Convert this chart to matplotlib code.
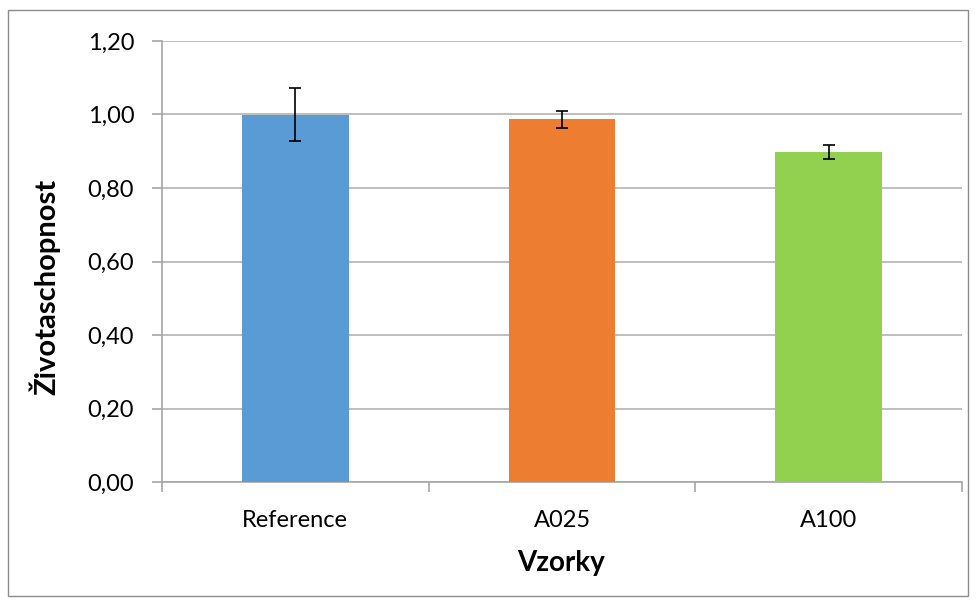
import matplotlib
matplotlib.use("Agg")
import matplotlib.pyplot as plt
from matplotlib.patches import Rectangle
from matplotlib.ticker import FuncFormatter, MultipleLocator

categories = ["Reference", "A025", "A100"]
values = [1.00, 0.987, 0.898]
errors = [0.073, 0.023, 0.018]
colors = ["#5B9BD5", "#ED7D31", "#92D050"]

plt.rcParams['font.family'] = ['Lato', 'DejaVu Sans']

W, H = 976, 606
fig = plt.figure(figsize=(W/100, H/100), dpi=100)
ax = fig.add_axes([162/W, (H-482)/H, (962-162)/W, (482-41)/H])

x = list(range(len(categories)))
ax.bar(x, values, width=0.4, color=colors, zorder=3)
ax.errorbar(x, values, yerr=errors, fmt='none', ecolor='black', elinewidth=1.2,
            capsize=4.5, capthick=1.2, zorder=4)

ax.set_xlim(-0.5, len(categories) - 0.5)
ax.set_ylim(0, 1.2)
ax.yaxis.set_major_locator(MultipleLocator(0.2))
ax.yaxis.set_major_formatter(FuncFormatter(lambda v, p: f"{v:.2f}".replace(".", ",")))
ax.grid(axis='y', color='#B3B3B3', linewidth=1.2, zorder=0)

ax.set_xticks([i - 0.5 for i in range(len(categories) + 1)])
ax.set_xticklabels([])
ax.set_xticks(x, minor=True)
ax.set_xticklabels(categories, minor=True)
ax.tick_params(axis='x', which='major', length=7, color='#A6A6A6', width=1.2)
ax.tick_params(axis='x', which='minor', length=0, pad=20, labelsize=17)
ax.tick_params(axis='y', length=7, color='#A6A6A6', width=1.2, labelsize=17, pad=13)

for s in ['top', 'right']:
    ax.spines[s].set_visible(False)
for s in ['left', 'bottom']:
    ax.spines[s].set_color('#A6A6A6')
    ax.spines[s].set_linewidth(1.2)

fig.text(561/W, 1 - 563/H, "Vzorky", fontsize=20, fontweight='bold',
         ha='center', va='center')
fig.text(45/W, 1 - 287/H, "Životaschopnost", fontsize=21, fontweight='bold',
         ha='center', va='center', rotation=90)

fig.patches.append(Rectangle((8/W, 1 - 596/H), (968-8)/W, (596-10)/H,
                             transform=fig.transFigure, fill=False,
                             edgecolor='#8C8C8C', linewidth=1.0))

fig.savefig("out.png", dpi=100)
